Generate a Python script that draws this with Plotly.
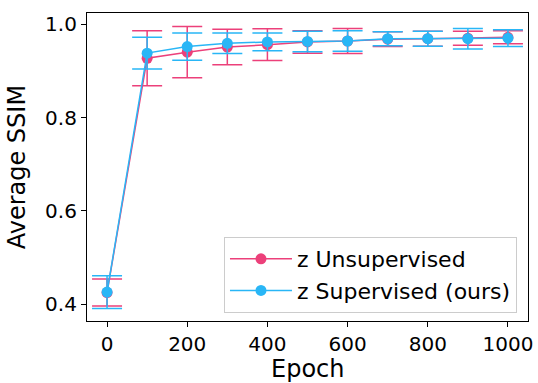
import plotly.graph_objects as go

epochs = [0, 100, 200, 300, 400, 500, 600, 700, 800, 900, 1000]
unsup_mean = [0.425, 0.927, 0.940, 0.951, 0.956, 0.962, 0.964, 0.968, 0.969, 0.970, 0.972]
unsup_err = [0.029, 0.059, 0.055, 0.038, 0.034, 0.024, 0.027, 0.016, 0.016, 0.015, 0.014]
sup_mean = [0.426, 0.938, 0.952, 0.959, 0.962, 0.963, 0.964, 0.969, 0.969, 0.969, 0.970]
sup_err = [0.035, 0.034, 0.029, 0.022, 0.019, 0.022, 0.022, 0.015, 0.016, 0.022, 0.018]
x_ticks = [0, 200, 400, 600, 800, 1000]
y_ticks = [0.4, 0.6, 0.8, 1.0]
x_title = "Epoch"
y_title = "Average SSIM"

PINK = "#EC407A"
BLUE = "#29B6F6"
FONT = "DejaVu Sans"

fig = go.Figure()
for name, mean, err, col in [("z Unsupervised", unsup_mean, unsup_err, PINK),
                             ("z Supervised (ours)", sup_mean, sup_err, BLUE)]:
    fig.add_trace(go.Scatter(
        x=epochs, y=mean, name=name, mode="lines+markers",
        line=dict(color=col, width=1.5),
        marker=dict(color=col, size=11),
        error_y=dict(type="data", array=err, visible=True, color=col,
                     thickness=1.5, width=15),
    ))

axis_common = dict(
    showline=True, linecolor="black", linewidth=1.2, mirror=True,
    ticks="outside", ticklen=5, tickwidth=1.2, tickcolor="black",
    showgrid=False, zeroline=False, automargin=False,
    tickfont=dict(family=FONT, size=20, color="black"),
)

fig.update_layout(
    width=538, height=383,
    margin=dict(l=87, r=10, t=13, b=62),
    paper_bgcolor="white", plot_bgcolor="white",
    font=dict(family=FONT, color="black"),
    xaxis=dict(range=[-50, 1050], tickvals=x_ticks, **axis_common),
    yaxis=dict(range=[0.364, 1.024], tickvals=y_ticks, tickformat=".1f", **axis_common),
    legend=dict(x=0.975, y=0.026, xanchor="right", yanchor="bottom",
                bgcolor="rgba(255,255,255,0.8)", bordercolor="#cccccc", borderwidth=1,
                font=dict(family=FONT, size=22), itemwidth=62, tracegroupgap=0),
    showlegend=True,
    annotations=[
        dict(text=x_title, xref="paper", yref="paper", x=0.5, y=-0.155,
             xanchor="center", yanchor="middle", showarrow=False,
             font=dict(family=FONT, size=24, color="black")),
        dict(text=y_title, xref="paper", yref="paper", x=-0.158, y=0.5,
             xanchor="center", yanchor="middle", textangle=-90, showarrow=False,
             font=dict(family=FONT, size=24, color="black")),
    ],
)

fig.write_html("out.html")
